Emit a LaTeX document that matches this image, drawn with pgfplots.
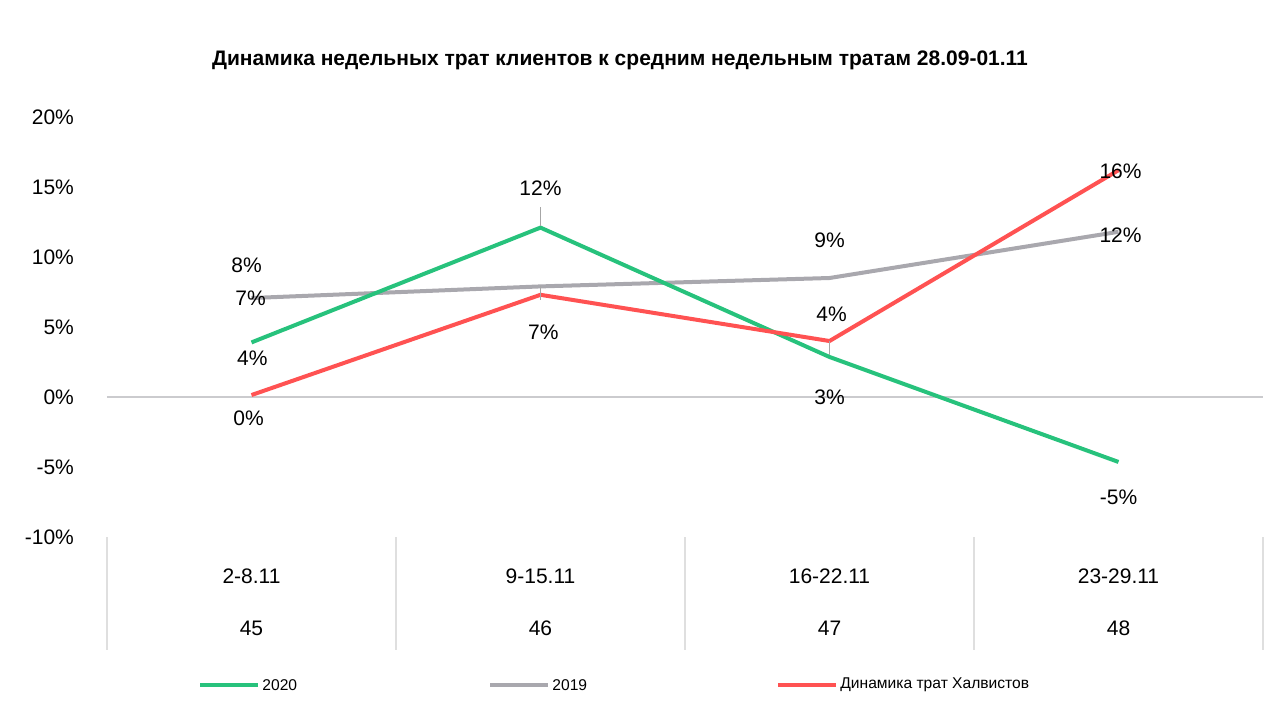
\documentclass[border=0pt]{standalone}
\usepackage{pgfplots}
\pgfplotsset{compat=1.18}
\usepackage{fontspec}
\setmainfont{Liberation Sans}
\definecolor{cgreen}{HTML}{27C27C}
\definecolor{cgrey}{HTML}{A9A8AE}
\definecolor{cred}{HTML}{FF5252}
\begin{document}
\begin{tikzpicture}[x=1pt,y=1pt]
\useasboundingbox (0,0) rectangle (640,360);
\node[font=\bfseries\fontsize{10.5}{12}\selectfont] at (310,330) {Динамика недельных трат клиентов к средним недельным тратам 28.09-01.11};
\begin{axis}[at={(53.5pt,91.5pt)}, anchor=south west, scale only axis,
 width=578pt, height=210pt, xmin=-0.5, xmax=3.5, ymin=-10, ymax=20,
 axis lines=none, clip=false,
 font=\fontsize{10.5}{12.6}\selectfont,
 ]
\draw[cgrey!60, line width=0.6pt] (axis cs:-0.5,0)--(axis cs:3.5,0);
\draw[gray!25, line width=0.8pt] (axis cs:-0.5,-10)--(axis cs:-0.5,-18.1);
\draw[gray!25, line width=0.8pt] (axis cs:0.5,-10)--(axis cs:0.5,-18.1);
\draw[gray!25, line width=0.8pt] (axis cs:1.5,-10)--(axis cs:1.5,-18.1);
\draw[gray!25, line width=0.8pt] (axis cs:2.5,-10)--(axis cs:2.5,-18.1);
\draw[gray!25, line width=0.8pt] (axis cs:3.5,-10)--(axis cs:3.5,-18.1);
\node[anchor=east] at (axis cs:-0.59,-10) {-10\%};
\node[anchor=east] at (axis cs:-0.59,-5) {-5\%};
\node[anchor=east] at (axis cs:-0.59,0) {0\%};
\node[anchor=east] at (axis cs:-0.59,5) {5\%};
\node[anchor=east] at (axis cs:-0.59,10) {10\%};
\node[anchor=east] at (axis cs:-0.59,15) {15\%};
\node[anchor=east] at (axis cs:-0.59,20) {20\%};
\node at (axis cs:0,-12.8) {2-8.11};
\node at (axis cs:1,-12.8) {9-15.11};
\node at (axis cs:2,-12.8) {16-22.11};
\node at (axis cs:3,-12.8) {23-29.11};
\node at (axis cs:0,-16.5) {45};
\node at (axis cs:1,-16.5) {46};
\node at (axis cs:2,-16.5) {47};
\node at (axis cs:3,-16.5) {48};
\addplot[cgrey, line width=2pt] coordinates {(0,7.07) (1,7.9) (2,8.5) (3,11.8)};
\addplot[cgreen, line width=2pt] coordinates {(0,3.9) (1,12.1) (2,2.86) (3,-4.64)};
\addplot[cred, line width=2pt] coordinates {(0,0.14) (1,7.3) (2,4.0) (3,16.2)};
\draw[gray!70, line width=0.6pt] (axis cs:1,12.2)--(axis cs:1,13.6);
\draw[gray!70, line width=0.6pt] (axis cs:1,7.9)--(axis cs:1,6.9);
\draw[gray!70, line width=0.6pt] (axis cs:2,4.0)--(axis cs:2,3.0);
\node at (axis cs:0.003,2.79) {4\%};
\node at (axis cs:1,14.93) {12\%};
\node at (axis cs:2,0) {3\%};
\node at (axis cs:3,-7.2) {-5\%};
\node at (axis cs:-0.003,7.07) {7\%};
\node at (axis cs:-0.017,9.43) {8\%};
\node at (axis cs:2,11.21) {9\%};
\node at (axis cs:3.007,11.57) {12\%};
\node at (axis cs:-0.01,-1.5) {0\%};
\node at (axis cs:1.01,4.64) {7\%};
\node at (axis cs:2.007,5.93) {4\%};
\node at (axis cs:3.007,16.14) {16\%};
\end{axis}
\begin{scope}[font=\fontsize{7.8}{9}\selectfont]
\draw[cgreen, line width=2pt] (100,17.5)--(129,17.5); \node[anchor=west, inner sep=1pt] at (130,17.5) {2020};
\draw[cgrey, line width=2pt] (245,17.5)--(274,17.5); \node[anchor=west, inner sep=1pt] at (275,17.5) {2019};
\draw[cred, line width=2pt] (389,17.5)--(418,17.5); \node[anchor=west, inner sep=1pt] at (419,17.5) {Динамика трат Халвистов};
\end{scope}
\end{tikzpicture}
\end{document}
